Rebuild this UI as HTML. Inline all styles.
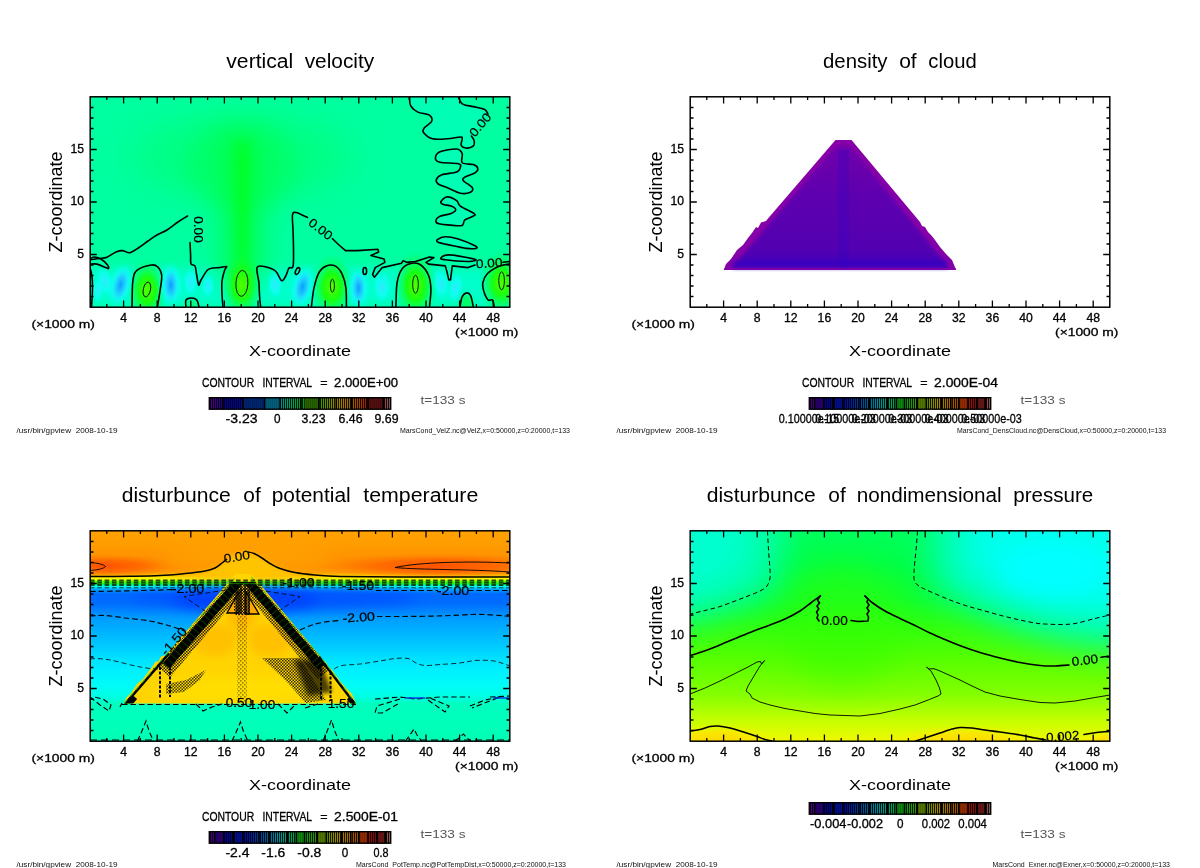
<!DOCTYPE html>
<html lang="en"><head><meta charset="utf-8"><title>gpview</title>
<style>html,body{margin:0;padding:0;background:#fff}svg{display:block}text{font-family:"Liberation Sans", sans-serif}</style></head><body>
<svg width="1200" height="868" viewBox="0 0 1200 868">
<defs>
<linearGradient id="cbar" x1="0" x2="1" y1="0" y2="0">
<stop offset="0" stop-color="#7800b4"/>
<stop offset="0.06" stop-color="#4000c8"/>
<stop offset="0.10" stop-color="#0000e6"/>
<stop offset="0.20" stop-color="#0010e6"/>
<stop offset="0.30" stop-color="#0070dc"/>
<stop offset="0.38" stop-color="#00c8dc"/>
<stop offset="0.45" stop-color="#00e68c"/>
<stop offset="0.52" stop-color="#00e61e"/>
<stop offset="0.60" stop-color="#50d200"/>
<stop offset="0.66" stop-color="#a0c800"/>
<stop offset="0.71" stop-color="#e6c800"/>
<stop offset="0.78" stop-color="#e68c00"/>
<stop offset="0.83" stop-color="#e66400"/>
<stop offset="0.87" stop-color="#e61e00"/>
<stop offset="0.92" stop-color="#b41010"/>
<stop offset="0.97" stop-color="#c86e6e"/>
<stop offset="1" stop-color="#c87878"/>
</linearGradient>
<pattern id="cbl" x="0" y="0" width="2" height="13" patternUnits="userSpaceOnUse">
<rect x="0" width="1" height="13" fill="#000" opacity="0.9"/>
<rect x="1" width="1" height="13" fill="#000" opacity="0.3"/>
</pattern>
<filter id="b2" x="-50%" y="-50%" width="200%" height="200%"><feGaussianBlur stdDeviation="2"/></filter>
<filter id="b4" x="-50%" y="-50%" width="200%" height="200%"><feGaussianBlur stdDeviation="4"/></filter>
<filter id="b6" x="-50%" y="-50%" width="200%" height="200%"><feGaussianBlur stdDeviation="6"/></filter>
<filter id="b10" x="-50%" y="-50%" width="200%" height="200%"><feGaussianBlur stdDeviation="10"/></filter>
<filter id="b16" x="-50%" y="-50%" width="200%" height="200%"><feGaussianBlur stdDeviation="16"/></filter>

<clipPath id="clip1"><rect x="90" y="97" width="420" height="210"/></clipPath>
<clipPath id="clip2"><rect x="690" y="97" width="420" height="210"/></clipPath>
<clipPath id="clip3"><rect x="90" y="531" width="420" height="210"/></clipPath>
<clipPath id="clip4"><rect x="690" y="531" width="420" height="210"/></clipPath>

<radialGradient id="p1g"><stop offset="0" stop-color="#54ff00"/><stop offset="0.4" stop-color="#18ff10"/><stop offset="1" stop-color="#00ff60" stop-opacity="0"/></radialGradient>
<radialGradient id="p1b"><stop offset="0" stop-color="#0c9cff"/><stop offset="0.5" stop-color="#20d0ff" stop-opacity="0.9"/><stop offset="1" stop-color="#10fff0" stop-opacity="0"/></radialGradient>
<radialGradient id="p1c"><stop offset="0" stop-color="#30e8ff"/><stop offset="0.55" stop-color="#10fff4" stop-opacity="0.8"/><stop offset="1" stop-color="#00ffe0" stop-opacity="0"/></radialGradient>


<linearGradient id="p2v" x1="0" x2="0" y1="0" y2="1"><stop offset="0" stop-color="#7a00a8"/><stop offset="0.45" stop-color="#6200ae"/><stop offset="0.85" stop-color="#5600b0"/><stop offset="1" stop-color="#4200ba"/></linearGradient>
<pattern id="p2h" width="2" height="2" patternUnits="userSpaceOnUse"><rect width="1" height="1" fill="#3000c0" opacity="0.25"/><rect x="1" y="1" width="1" height="1" fill="#3000c0" opacity="0.25"/></pattern>

<linearGradient id="p3v" x1="0" x2="0" y1="0" y2="1"><stop offset="0.0000" stop-color="#ffa200"/><stop offset="0.0667" stop-color="#ff9c00"/><stop offset="0.1381" stop-color="#ff9000"/><stop offset="0.1762" stop-color="#ff8c00"/><stop offset="0.2000" stop-color="#ffa000"/><stop offset="0.2143" stop-color="#ffd000"/><stop offset="0.2214" stop-color="#fff000"/><stop offset="0.2310" stop-color="#f0ff00"/><stop offset="0.2405" stop-color="#70ff00"/><stop offset="0.2524" stop-color="#00ff50"/><stop offset="0.2619" stop-color="#00ffe0"/><stop offset="0.2714" stop-color="#00d0ff"/><stop offset="0.2810" stop-color="#0098ff"/><stop offset="0.3000" stop-color="#0068ff"/><stop offset="0.3476" stop-color="#006eff"/><stop offset="0.3857" stop-color="#0088ff"/><stop offset="0.4143" stop-color="#009cff"/><stop offset="0.4714" stop-color="#00b0ff"/><stop offset="0.5429" stop-color="#00c8ff"/><stop offset="0.6048" stop-color="#00e0ff"/><stop offset="0.6619" stop-color="#00f0ff"/><stop offset="0.7333" stop-color="#00fcf8"/><stop offset="0.7952" stop-color="#00ffe0"/><stop offset="0.8190" stop-color="#00ffc0"/><stop offset="1.0000" stop-color="#00ffb4"/></linearGradient>
<radialGradient id="p3r"><stop offset="0" stop-color="#ff5000"/><stop offset="0.5" stop-color="#ff6400" stop-opacity="0.8"/><stop offset="1" stop-color="#ff8000" stop-opacity="0"/></radialGradient>
<pattern id="p3d" width="3" height="3" patternUnits="userSpaceOnUse"><rect width="1.5" height="1.5" fill="#000"/><rect x="1.5" y="1.5" width="1.5" height="1.5" fill="#000"/></pattern>
<pattern id="p3d2" width="4" height="4" patternUnits="userSpaceOnUse"><rect width="1.6" height="1.6" fill="#000"/><rect x="2" y="2" width="1.6" height="1.6" fill="#000"/></pattern>
<clipPath id="p3tri"><path d="M124 703.5L168 652.5L231 582L256 582L320 656L356 703.5Z"/></clipPath>


<linearGradient id="p4v" x1="0" x2="0" y1="0" y2="1">
<stop offset="0" stop-color="#00ff5c"/>
<stop offset="0.15" stop-color="#00ff48"/>
<stop offset="0.32" stop-color="#10ff30"/>
<stop offset="0.45" stop-color="#30ff10"/>
<stop offset="0.62" stop-color="#58ff00"/>
<stop offset="0.78" stop-color="#84ff00"/>
<stop offset="0.9" stop-color="#c4ff00"/>
<stop offset="1" stop-color="#f0f800"/>
</linearGradient>
<radialGradient id="p4y"><stop offset="0" stop-color="#ffd000"/><stop offset="0.6" stop-color="#ffe000" stop-opacity="0.8"/><stop offset="1" stop-color="#fff000" stop-opacity="0"/></radialGradient>

</defs>
<rect width="1200" height="868" fill="#fff"/>
<g clip-path="url(#clip1)">
<rect x="90" y="97" width="420" height="210" fill="#00ffa0"/>
<rect x="80" y="268" width="440" height="38" fill="#00ffd8" opacity="0.75" filter="url(#b6)"/>
<ellipse cx="242" cy="156" rx="112" ry="46" fill="#00ff58" opacity="0.36" filter="url(#b16)"/>
<ellipse cx="242" cy="165" rx="58" ry="45" fill="#00ff48" opacity="0.4" filter="url(#b10)"/>
<rect x="214" y="130" width="56" height="160" rx="24" fill="#00ff40" opacity="0.45" filter="url(#b10)"/>
<rect x="231" y="138" width="22" height="140" rx="10" fill="#00ff28" opacity="0.6" filter="url(#b6)"/>
<rect x="238" y="150" width="8" height="125" rx="4" fill="#00ff18" opacity="0.5" filter="url(#b4)"/>
<ellipse cx="147" cy="290" rx="20" ry="32" fill="url(#p1g)"/>
<ellipse cx="242" cy="285" rx="21" ry="35" fill="url(#p1g)"/>
<ellipse cx="332" cy="287" rx="22" ry="33" fill="url(#p1g)"/>
<ellipse cx="415.5" cy="286" rx="22" ry="35" fill="url(#p1g)"/>
<ellipse cx="501.5" cy="283" rx="22" ry="32" fill="url(#p1g)"/>
<ellipse cx="466.5" cy="303" rx="6" ry="9" fill="#00ff50" opacity="0.8" filter="url(#b2)"/>
<ellipse cx="192.5" cy="304" rx="5" ry="5" fill="#00ff60" opacity="0.7" filter="url(#b2)"/>
<ellipse cx="120.5" cy="285" rx="14" ry="24" transform="rotate(14 120.5 285)" fill="url(#p1c)"/>
<ellipse cx="120.5" cy="285" rx="9" ry="19" transform="rotate(14 120.5 285)" fill="url(#p1b)"/>
<ellipse cx="170.8" cy="285" rx="13.5" ry="24" transform="rotate(0 170.8 285)" fill="url(#p1c)"/>
<ellipse cx="170.8" cy="285" rx="8.5" ry="19" transform="rotate(0 170.8 285)" fill="url(#p1b)"/>
<ellipse cx="302.5" cy="287" rx="14" ry="24" transform="rotate(12 302.5 287)" fill="url(#p1c)"/>
<ellipse cx="302.5" cy="287" rx="9" ry="19" transform="rotate(12 302.5 287)" fill="url(#p1b)"/>
<ellipse cx="358.5" cy="288" rx="13" ry="23" transform="rotate(0 358.5 288)" fill="url(#p1c)"/>
<ellipse cx="358.5" cy="288" rx="8" ry="18" transform="rotate(0 358.5 288)" fill="url(#p1b)"/>
<ellipse cx="105" cy="282" rx="9" ry="17" transform="rotate(-14 105 282)" fill="url(#p1c)"/>
<ellipse cx="190.5" cy="282" rx="8" ry="15" transform="rotate(0 190.5 282)" fill="url(#p1c)"/>
<ellipse cx="208" cy="286" rx="7" ry="13" transform="rotate(0 208 286)" fill="url(#p1c)"/>
<ellipse cx="275" cy="285" rx="8" ry="15" transform="rotate(0 275 285)" fill="url(#p1c)"/>
<ellipse cx="382" cy="287" rx="10" ry="17" transform="rotate(0 382 287)" fill="url(#p1c)"/>
<ellipse cx="441" cy="284" rx="9" ry="17" transform="rotate(-10 441 284)" fill="url(#p1c)"/>
<ellipse cx="455.5" cy="288" rx="8" ry="16" transform="rotate(10 455.5 288)" fill="url(#p1c)"/>
<ellipse cx="98" cy="290" rx="6" ry="13" transform="rotate(0 98 290)" fill="url(#p1c)"/>
<path d="M409.6 97.0C409.8 98.5 409.2 103.2 410.6 105.7C412.0 108.2 414.8 110.6 417.9 112.1C421.0 113.6 426.7 113.4 429.0 114.9C431.3 116.4 432.5 119.2 431.7 121.3C430.9 123.4 425.8 125.9 424.4 127.8C423.0 129.7 422.1 130.6 423.5 132.4C424.9 134.2 428.7 137.7 432.7 138.8C436.7 139.9 442.8 139.1 447.4 138.8C452.0 138.5 457.8 137.0 460.3 137.0C462.8 137.0 462.1 137.4 462.2 138.8C462.3 140.2 460.6 143.8 461.2 145.3C461.8 146.8 463.8 147.8 465.8 148.0C467.8 148.2 471.8 147.4 473.2 146.2C474.6 145.0 474.4 142.4 474.1 140.7C473.8 139.0 470.4 138.6 471.4 136.0C472.4 133.4 477.2 128.7 480.0 125.0C482.8 121.3 487.3 116.6 488.0 114.0C488.7 111.4 486.8 110.5 484.3 109.3C481.8 108.1 476.9 107.5 473.2 106.6C469.5 105.7 464.6 105.4 462.2 103.8C459.8 102.2 459.1 98.1 458.5 97.0Z" fill="#00ffb4"/>
<path d="M435.4 158.2C435.4 156.4 436.5 153.2 440.0 151.7C443.5 150.2 452.9 148.7 456.6 149.0C460.3 149.3 461.3 151.3 462.2 153.6C463.1 155.9 460.4 161.0 462.2 162.8C464.0 164.6 470.6 163.7 473.2 164.6C475.8 165.5 477.5 166.9 477.8 168.3C478.1 169.7 477.0 171.5 475.0 172.9C473.0 174.3 467.8 175.4 465.8 176.6C463.8 177.8 462.0 178.5 463.1 180.3C464.2 182.2 471.1 185.7 472.3 187.7C473.5 189.7 472.4 191.4 470.4 192.3C468.4 193.2 464.1 194.0 460.3 193.2C456.5 192.4 451.1 189.2 447.4 187.7C443.7 186.2 440.0 185.4 438.2 184.0C436.4 182.6 435.8 180.9 436.4 179.4C437.0 177.9 438.5 176.0 441.9 174.8C445.3 173.6 453.5 173.2 456.6 172.0C459.7 170.8 460.0 168.8 460.3 167.4C460.6 166.0 461.9 164.6 458.5 163.7C455.1 162.8 443.9 163.1 440.0 162.2C436.1 161.3 435.4 159.9 435.4 158.2Z" fill="#00ffb4" stroke="#000" stroke-width="1.6"  stroke-linejoin="round" stroke-linecap="round"/>
<path d="M441.0 201.5C441.8 200.3 444.8 197.1 447.4 196.9C450.0 196.8 454.5 199.1 456.6 200.6C458.8 202.1 457.4 203.9 460.3 206.1C463.2 208.2 472.0 211.8 474.1 213.5C476.2 215.2 474.7 215.1 473.2 216.2C471.7 217.3 466.7 218.4 464.9 219.9C463.1 221.4 464.2 224.5 462.2 225.4C460.2 226.3 456.9 225.7 452.9 225.4C448.9 225.1 441.0 224.5 438.2 223.6C435.4 222.7 435.7 221.1 436.0 219.9C436.3 218.7 437.5 217.3 440.0 216.2C442.5 215.1 448.5 214.6 451.1 213.5C453.7 212.4 455.7 211.0 455.7 209.8C455.7 208.6 453.2 207.0 451.1 206.1C449.0 205.2 444.5 205.0 442.8 204.2C441.1 203.4 440.2 202.7 441.0 201.5Z" fill="#00ffb4" stroke="#000" stroke-width="1.6"  stroke-linejoin="round" stroke-linecap="round"/>
<path d="M437.4 239.6C438.6 238.7 441.9 236.8 445.3 236.7C448.7 236.6 452.6 237.3 457.5 238.8C462.4 240.3 471.9 244.2 475.0 245.8C478.1 247.4 477.3 248.0 475.9 248.4C474.4 248.8 470.8 249.0 466.3 248.4C461.8 247.8 453.5 245.9 448.8 244.9C444.1 243.9 440.2 243.2 438.3 242.3C436.4 241.4 436.2 240.5 437.4 239.6Z" fill="#00ffb4" stroke="#000" stroke-width="1.6"  stroke-linejoin="round" stroke-linecap="round"/>
<path d="M440.9 258.0C441.5 257.2 443.4 254.8 448.8 254.9C454.2 255.1 468.9 257.9 473.3 258.9C477.7 259.8 475.9 260.2 475.0 260.6C474.1 261.0 472.9 261.6 468.0 261.5C463.1 261.4 449.8 260.4 445.3 259.8C440.8 259.2 440.3 258.8 440.9 258.0Z" fill="#00ffb4" stroke="#000" stroke-width="1.6"  stroke-linejoin="round" stroke-linecap="round"/>
<path d="M409.6 97.0C409.8 98.5 409.2 103.2 410.6 105.7C412.0 108.2 414.8 110.6 417.9 112.1C421.0 113.6 426.7 113.4 429.0 114.9C431.3 116.4 432.5 119.2 431.7 121.3C430.9 123.4 425.8 125.9 424.4 127.8C423.0 129.7 422.1 130.6 423.5 132.4C424.9 134.2 428.7 137.7 432.7 138.8C436.7 139.9 442.8 139.1 447.4 138.8C452.0 138.5 457.8 137.0 460.3 137.0C462.8 137.0 462.1 137.4 462.2 138.8C462.3 140.2 460.6 143.8 461.2 145.3C461.8 146.8 463.8 147.8 465.8 148.0C467.8 148.2 471.8 147.4 473.2 146.2C474.6 145.0 474.4 142.4 474.1 140.7C473.8 139.0 471.8 136.8 471.4 136.0" stroke="#000" stroke-width="1.6" fill="none" stroke-linejoin="round" stroke-linecap="round"/>
<path d="M488.0 114.0C487.4 113.2 486.8 110.5 484.3 109.3C481.8 108.1 476.9 107.5 473.2 106.6C469.5 105.7 464.6 105.4 462.2 103.8C459.8 102.2 459.1 98.1 458.5 97.0" stroke="#000" stroke-width="1.6" fill="none" stroke-linejoin="round" stroke-linecap="round"/>
<path d="M90.0 259.8C91.5 259.6 96.2 258.9 99.0 258.5C101.8 258.1 104.2 258.3 107.0 257.2C109.8 256.1 113.4 253.1 116.0 252.0C118.6 250.9 120.2 250.5 122.5 250.6C124.8 250.7 127.2 253.2 130.0 252.7C132.8 252.2 136.0 249.4 139.0 247.5C142.0 245.6 145.1 243.1 148.0 241.0C150.9 238.9 153.3 237.0 156.5 235.2C159.7 233.4 163.4 232.2 167.0 230.0C170.6 227.8 174.6 224.3 178.0 222.0C181.4 219.7 185.9 217.0 187.5 216.0" stroke="#000" stroke-width="1.6" fill="none" stroke-linejoin="round" stroke-linecap="round"/>
<path d="M90.0 259.0C90.7 258.7 92.2 257.0 94.0 257.0C95.8 257.0 98.2 257.5 100.5 258.8C102.8 260.1 106.2 263.4 107.5 265.0C108.8 266.6 108.7 268.1 108.4 268.5C108.1 268.9 107.6 268.3 105.7 267.6C103.8 266.9 99.6 264.7 97.0 264.1C94.4 263.5 91.2 264.1 90.0 264.1" stroke="#000" stroke-width="1.6" fill="none" stroke-linejoin="round" stroke-linecap="round"/>
<path d="M190.0 242.5C190.1 244.6 190.4 251.4 190.6 255.0C190.8 258.6 190.3 262.2 191.0 264.0C191.7 265.8 194.1 264.3 195.0 266.0C195.9 267.7 195.9 270.8 196.5 274.0C197.1 277.2 197.9 284.0 198.7 285.0C199.4 286.0 199.5 282.5 201.0 280.0C202.5 277.5 205.5 272.0 207.5 270.0C209.5 268.0 210.9 268.4 213.0 268.0C215.1 267.6 217.8 267.8 220.0 267.5C222.2 267.2 225.7 266.1 226.5 266.5C227.3 266.9 225.4 267.6 224.7 270.0C223.9 272.4 222.4 277.0 222.0 281.0C221.6 285.0 221.8 289.7 222.0 294.0C222.2 298.3 222.8 304.8 223.0 307.0" stroke="#000" stroke-width="1.6" fill="none" stroke-linejoin="round" stroke-linecap="round"/>
<path d="M260.6 307.0C260.4 305.0 259.8 299.1 259.5 295.0C259.2 290.9 259.3 287.1 258.9 282.5C258.5 277.9 256.0 270.2 257.0 267.6C258.0 265.0 261.9 266.1 265.0 266.7C268.1 267.3 272.7 268.7 275.5 271.0C278.3 273.3 279.9 279.9 281.6 280.7C283.4 281.4 284.8 277.6 286.0 275.5C287.2 273.4 287.8 269.5 289.0 268.0C290.2 266.5 292.2 269.5 293.0 266.5C293.8 263.5 293.5 256.1 293.5 250.0C293.5 243.9 293.2 235.8 293.0 230.0C292.8 224.2 292.0 217.9 292.5 215.0C293.0 212.1 293.5 212.1 296.0 212.5C298.5 212.9 305.6 216.7 307.5 217.5" stroke="#000" stroke-width="1.6" fill="none" stroke-linejoin="round" stroke-linecap="round"/>
<path d="M332.5 238.7L339.0 245.0L345.5 250.6L357.7 250.6L377.9 249.2L378.7 251.9L370.9 255.4L384.0 258.9L384.9 262.4L375.2 267.6L372.6 274.6L374.4 277.2L382.2 267.6L401.5 263.2L403.2 260.6L406.7 262.4L415.5 261.5L429.5 257.1L433.9 257.6L426.0 262.4L428.6 264.1L445.3 265.9L447.0 272.0L448.8 279.9L450.5 279.9L452.3 265.9L468.0 267.6L475.0 265.0" stroke="#000" stroke-width="1.6" fill="none" stroke-linejoin="round" stroke-linecap="round"/>
<path d="M503 262.2L510 261.5" stroke="#000" stroke-width="1.6" fill="none" stroke-linejoin="round" stroke-linecap="round"/>
<path d="M132.0 307.0C132.2 302.6 132.0 286.8 132.9 280.7C133.8 274.6 134.1 272.8 137.2 270.2C140.2 267.6 147.8 265.6 151.2 265.0C154.6 264.4 155.7 264.9 157.4 266.7C159.2 268.4 161.3 271.4 161.7 275.5C162.1 279.6 160.7 285.8 160.0 291.0C159.3 296.2 157.8 304.3 157.4 307.0" stroke="#000" stroke-width="1.6" fill="none" stroke-linejoin="round" stroke-linecap="round"/>
<path d="M311.4 307.0C311.8 303.8 312.7 293.6 314.0 287.8C315.3 282.0 317.2 275.6 319.3 272.0C321.4 268.4 323.7 266.9 326.3 265.9C328.9 264.9 332.4 264.6 335.0 265.9C337.6 267.2 340.2 270.1 342.0 273.8C343.8 277.5 345.2 282.3 345.9 287.8C346.6 293.3 346.3 303.8 346.4 307.0" stroke="#000" stroke-width="1.6" fill="none" stroke-linejoin="round" stroke-linecap="round"/>
<path d="M395.9 307.0C396.1 302.9 396.0 288.9 397.1 282.5C398.2 276.1 399.9 271.7 402.4 268.5C404.9 265.3 408.9 263.9 412.0 263.3C415.1 262.7 418.0 263.0 420.8 265.0C423.6 267.0 426.9 271.4 428.6 275.5C430.3 279.6 430.8 284.2 430.9 289.5C431.0 294.8 429.7 304.1 429.5 307.0" stroke="#000" stroke-width="1.6" fill="none" stroke-linejoin="round" stroke-linecap="round"/>
<path d="M510.0 264.0C509.3 264.1 508.0 264.0 506.0 264.5C504.0 265.0 500.9 265.2 497.8 266.8C494.7 268.4 489.8 271.2 487.3 273.8C484.8 276.4 483.5 279.6 482.9 282.5C482.3 285.4 482.9 288.4 483.8 291.3C484.7 294.2 486.7 298.6 488.1 300.0C489.6 301.4 491.5 298.8 492.5 300.0C493.5 301.2 494.0 305.8 494.3 307.0" stroke="#000" stroke-width="1.6" fill="none" stroke-linejoin="round" stroke-linecap="round"/>
<path d="M460.1 307.0C460.4 305.4 460.9 299.7 461.9 297.4C462.9 295.1 464.9 293.3 466.3 293.0C467.8 292.7 469.4 293.3 470.6 295.6C471.8 297.9 472.9 305.1 473.3 307.0" stroke="#000" stroke-width="1.6" fill="none" stroke-linejoin="round" stroke-linecap="round"/>
<path d="M186.0 307.0C186.0 305.8 185.1 301.5 186.0 300.0C186.9 298.5 189.7 298.0 191.5 298.0C193.3 298.0 195.6 298.5 196.8 300.0C198.1 301.5 198.6 305.8 199.0 307.0" stroke="#000" stroke-width="1.6" fill="none" stroke-linejoin="round" stroke-linecap="round"/>
<path d="M91.5 307C93 290 93 275 90 268" stroke="#000" stroke-width="1.6" fill="none" stroke-linejoin="round" stroke-linecap="round"/>
<ellipse cx="364.8" cy="271" rx="1.8" ry="3.5" stroke="#000" stroke-width="1.6" fill="none" stroke-linejoin="round" stroke-linecap="round"/>
<ellipse cx="297.5" cy="271" rx="1.8" ry="3.6" transform="rotate(25 297.5 271)" stroke="#000" stroke-width="1.6" fill="none" stroke-linejoin="round" stroke-linecap="round"/>
<ellipse cx="146.9" cy="289.5" rx="3.6" ry="7.5" transform="rotate(12 146.9 289.5)" stroke="#000" stroke-width="0.9" fill="none"/>
<ellipse cx="241.9" cy="283.4" rx="6" ry="13" transform="rotate(3 241.9 283.4)" stroke="#000" stroke-width="0.9" fill="none"/>
<ellipse cx="332.4" cy="285.7" rx="2" ry="6.5" transform="rotate(0 332.4 285.7)" stroke="#000" stroke-width="0.9" fill="none"/>
<ellipse cx="415.5" cy="284.3" rx="2.8" ry="9" transform="rotate(0 415.5 284.3)" stroke="#000" stroke-width="0.9" fill="none"/>
<ellipse cx="501.6" cy="280.8" rx="2.8" ry="9" transform="rotate(0 501.6 280.8)" stroke="#000" stroke-width="0.9" fill="none"/>
<text transform="translate(194.3,229.5) rotate(90)" font-size="12.5" text-anchor="middle" stroke="#000" stroke-width="0.2" textLength="26.5" lengthAdjust="spacingAndGlyphs">0.00</text>
<text transform="translate(318,232.5) rotate(38)" font-size="12.5" text-anchor="middle" stroke="#000" stroke-width="0.2" textLength="26.5" lengthAdjust="spacingAndGlyphs">0.00</text>
<text transform="translate(483.5,127.5) rotate(-50)" font-size="12.5" text-anchor="middle" stroke="#000" stroke-width="0.2" textLength="26.5" lengthAdjust="spacingAndGlyphs">0.00</text>
<text transform="translate(489.5,267.3) rotate(-4)" font-size="12.5" text-anchor="middle" stroke="#000" stroke-width="0.2" textLength="26.5" lengthAdjust="spacingAndGlyphs">0.00</text>
</g>
<path d="M106.8 307.2v-3.3M106.8 96.8v3.3M123.6 307.2v-6.6M123.6 96.8v6.6M140.4 307.2v-3.3M140.4 96.8v3.3M157.2 307.2v-6.6M157.2 96.8v6.6M174.0 307.2v-3.3M174.0 96.8v3.3M190.8 307.2v-6.6M190.8 96.8v6.6M207.6 307.2v-3.3M207.6 96.8v3.3M224.4 307.2v-6.6M224.4 96.8v6.6M241.2 307.2v-3.3M241.2 96.8v3.3M258.0 307.2v-6.6M258.0 96.8v6.6M274.8 307.2v-3.3M274.8 96.8v3.3M291.6 307.2v-6.6M291.6 96.8v6.6M308.4 307.2v-3.3M308.4 96.8v3.3M325.2 307.2v-6.6M325.2 96.8v6.6M342.0 307.2v-3.3M342.0 96.8v3.3M358.8 307.2v-6.6M358.8 96.8v6.6M375.6 307.2v-3.3M375.6 96.8v3.3M392.4 307.2v-6.6M392.4 96.8v6.6M409.2 307.2v-3.3M409.2 96.8v3.3M426.0 307.2v-6.6M426.0 96.8v6.6M442.8 307.2v-3.3M442.8 96.8v3.3M459.6 307.2v-6.6M459.6 96.8v6.6M476.4 307.2v-3.3M476.4 96.8v3.3M493.2 307.2v-6.6M493.2 96.8v6.6M90.2 296.50h3.3M509.8 296.50h-3.3M90.2 286.00h3.3M509.8 286.00h-3.3M90.2 275.50h3.3M509.8 275.50h-3.3M90.2 265.00h3.3M509.8 265.00h-3.3M90.2 254.50h6.6M509.8 254.50h-6.6M90.2 244.00h3.3M509.8 244.00h-3.3M90.2 233.50h3.3M509.8 233.50h-3.3M90.2 223.00h3.3M509.8 223.00h-3.3M90.2 212.50h3.3M509.8 212.50h-3.3M90.2 202.00h6.6M509.8 202.00h-6.6M90.2 191.50h3.3M509.8 191.50h-3.3M90.2 181.00h3.3M509.8 181.00h-3.3M90.2 170.50h3.3M509.8 170.50h-3.3M90.2 160.00h3.3M509.8 160.00h-3.3M90.2 149.50h6.6M509.8 149.50h-6.6M90.2 139.00h3.3M509.8 139.00h-3.3M90.2 128.50h3.3M509.8 128.50h-3.3M90.2 118.00h3.3M509.8 118.00h-3.3M90.2 107.50h3.3M509.8 107.50h-3.3" stroke="#000" stroke-width="1.3" fill="none"/>
<rect x="90.2" y="96.8" width="419.6" height="210.4" fill="none" stroke="#000" stroke-width="1.5"/>
<text y="67.5" font-size="19.5" fill="#000" xml:space="preserve"><tspan x="226.3" textLength="67.0" lengthAdjust="spacingAndGlyphs">vertical</tspan> <tspan x="304.7" textLength="69.5" lengthAdjust="spacingAndGlyphs">velocity</tspan></text>
<text x="84.0" y="257.6" font-size="12.2" text-anchor="end" fill="#000" stroke="#000" stroke-width="0.3">5</text>
<text x="84.0" y="205.1" font-size="12.2" text-anchor="end" fill="#000" stroke="#000" stroke-width="0.3">10</text>
<text x="84.0" y="152.6" font-size="12.2" text-anchor="end" fill="#000" stroke="#000" stroke-width="0.3">15</text>
<text x="123.6" y="322.2" font-size="12.2" text-anchor="middle" fill="#000" stroke="#000" stroke-width="0.3">4</text>
<text x="157.2" y="322.2" font-size="12.2" text-anchor="middle" fill="#000" stroke="#000" stroke-width="0.3">8</text>
<text x="190.8" y="322.2" font-size="12.2" text-anchor="middle" fill="#000" stroke="#000" stroke-width="0.3">12</text>
<text x="224.4" y="322.2" font-size="12.2" text-anchor="middle" fill="#000" stroke="#000" stroke-width="0.3">16</text>
<text x="258.0" y="322.2" font-size="12.2" text-anchor="middle" fill="#000" stroke="#000" stroke-width="0.3">20</text>
<text x="291.6" y="322.2" font-size="12.2" text-anchor="middle" fill="#000" stroke="#000" stroke-width="0.3">24</text>
<text x="325.2" y="322.2" font-size="12.2" text-anchor="middle" fill="#000" stroke="#000" stroke-width="0.3">28</text>
<text x="358.8" y="322.2" font-size="12.2" text-anchor="middle" fill="#000" stroke="#000" stroke-width="0.3">32</text>
<text x="392.4" y="322.2" font-size="12.2" text-anchor="middle" fill="#000" stroke="#000" stroke-width="0.3">36</text>
<text x="426.0" y="322.2" font-size="12.2" text-anchor="middle" fill="#000" stroke="#000" stroke-width="0.3">40</text>
<text x="459.6" y="322.2" font-size="12.2" text-anchor="middle" fill="#000" stroke="#000" stroke-width="0.3">44</text>
<text x="493.2" y="322.2" font-size="12.2" text-anchor="middle" fill="#000" stroke="#000" stroke-width="0.3">48</text>
<text x="63.2" y="328.3" font-size="11.5" text-anchor="middle" fill="#000" textLength="63.5" lengthAdjust="spacingAndGlyphs" stroke="#000" stroke-width="0.3">(×1000 m)</text>
<text x="486.7" y="335.8" font-size="11.5" text-anchor="middle" fill="#000" textLength="63.3" lengthAdjust="spacingAndGlyphs" stroke="#000" stroke-width="0.3">(×1000 m)</text>
<text x="300.0" y="356.0" font-size="15.5" text-anchor="middle" fill="#000" textLength="102" lengthAdjust="spacingAndGlyphs">X-coordinate</text>
<text transform="translate(62,202) rotate(-90)" font-size="18" text-anchor="middle" textLength="101" lengthAdjust="spacingAndGlyphs">Z-coordinate</text>
<text y="386.8" font-size="12.2" fill="#000" xml:space="preserve" stroke="#000" stroke-width="0.3"><tspan x="201.9" textLength="52.3" lengthAdjust="spacingAndGlyphs">CONTOUR</tspan> <tspan x="262.5" textLength="49.2" lengthAdjust="spacingAndGlyphs">INTERVAL</tspan> <tspan x="320.3" textLength="7.3" lengthAdjust="spacingAndGlyphs">=</tspan> <tspan x="334.1" textLength="63.9" lengthAdjust="spacingAndGlyphs">2.000E+00</tspan></text>
<rect x="209.3" y="397.7" width="181.4" height="11.5" fill="url(#cbar)"/>
<rect x="209.3" y="397.7" width="181.4" height="11.5" fill="url(#cbl)"/>
<rect x="243.8" y="397.7" width="20.9" height="11.5" fill="#002878"/>
<rect x="265.5" y="397.7" width="13.6" height="11.5" fill="#006888"/>
<rect x="304.5" y="397.7" width="13.6" height="11.5" fill="#2a6c00"/>
<rect x="368.9" y="397.7" width="13.6" height="11.5" fill="#5c1010"/>
<rect x="243.8" y="397.7" width="20.9" height="11.5" fill="url(#cbl)" opacity="0.25"/>
<rect x="265.5" y="397.7" width="13.6" height="11.5" fill="url(#cbl)" opacity="0.25"/>
<rect x="304.5" y="397.7" width="13.6" height="11.5" fill="url(#cbl)" opacity="0.25"/>
<rect x="368.9" y="397.7" width="13.6" height="11.5" fill="url(#cbl)" opacity="0.25"/>
<path d="M222.9 397.7v11.5M242.9 397.7v11.5M264.6 397.7v11.5M280.0 397.7v11.5M300.9 397.7v11.5M319.0 397.7v11.5M336.3 397.7v11.5M351.7 397.7v11.5M368.0 397.7v11.5M383.4 397.7v11.5" stroke="#000" stroke-width="1.6"/>
<rect x="209.3" y="397.7" width="181.4" height="11.5" fill="none" stroke="#000" stroke-width="1.4"/>
<text x="241.5" y="422.7" font-size="12.2" text-anchor="middle" fill="#000" textLength="32" lengthAdjust="spacingAndGlyphs" stroke="#000" stroke-width="0.3">-3.23</text>
<text x="277.2" y="422.7" font-size="12.2" text-anchor="middle" fill="#000" textLength="6.5" lengthAdjust="spacingAndGlyphs" stroke="#000" stroke-width="0.3">0</text>
<text x="313.6" y="422.7" font-size="12.2" text-anchor="middle" fill="#000" textLength="24" lengthAdjust="spacingAndGlyphs" stroke="#000" stroke-width="0.3">3.23</text>
<text x="350.6" y="422.7" font-size="12.2" text-anchor="middle" fill="#000" textLength="24" lengthAdjust="spacingAndGlyphs" stroke="#000" stroke-width="0.3">6.46</text>
<text x="386.5" y="422.7" font-size="12.2" text-anchor="middle" fill="#000" textLength="24" lengthAdjust="spacingAndGlyphs" stroke="#000" stroke-width="0.3">9.69</text>
<text x="420.5" y="404.0" font-size="11.8" text-anchor="start" fill="#555" textLength="45" lengthAdjust="spacingAndGlyphs">t=133 s</text>
<text x="16.5" y="432.5" font-size="6.6" text-anchor="start" fill="#111" textLength="101" lengthAdjust="spacingAndGlyphs" style="white-space:pre">/usr/bin/gpview  2008-10-19</text>
<text x="400.0" y="432.5" font-size="6.6" text-anchor="start" fill="#111" textLength="170" lengthAdjust="spacingAndGlyphs">MarsCond_VelZ.nc@VelZ,x=0:50000,z=0:20000,t=133</text>
<g clip-path="url(#clip2)">
<path d="M724.0 269.5L726.0 264.0L731.0 259.0L737.0 250.0L743.0 245.0L748.0 238.0L752.0 233.0L756.0 227.0L758.0 228.0L761.0 222.5L766.0 221.0L768.0 218.5L835.5 140.0L851.5 140.0L920.0 222.0L922.0 226.0L925.0 227.0L928.0 232.0L931.0 235.0L935.0 240.0L940.0 247.0L946.0 254.0L952.0 260.0L956.0 269.5Z" fill="#8800a8"/>
<path d="M732.0 267.5L836.0 147.0L843.5 144.5L851.0 147.0L949.0 267.5Z" fill="url(#p2v)" filter="url(#b2)" opacity="0.95"/>
<path d="M732.0 267.5L836.0 147.0L843.5 144.5L851.0 147.0L949.0 267.5Z" fill="url(#p2h)"/>
<rect x="838" y="150" width="11" height="118" fill="#3a00c0" opacity="0.35"/>
<rect x="732" y="260" width="216" height="8" fill="#2800c8" opacity="0.4" filter="url(#b2)"/>
<path d="M724 269.3H956" stroke="#8000a8" stroke-width="1.6"/>
</g>
<path d="M706.8 307.2v-3.3M706.8 96.8v3.3M723.6 307.2v-6.6M723.6 96.8v6.6M740.4 307.2v-3.3M740.4 96.8v3.3M757.2 307.2v-6.6M757.2 96.8v6.6M774.0 307.2v-3.3M774.0 96.8v3.3M790.8 307.2v-6.6M790.8 96.8v6.6M807.6 307.2v-3.3M807.6 96.8v3.3M824.4 307.2v-6.6M824.4 96.8v6.6M841.2 307.2v-3.3M841.2 96.8v3.3M858.0 307.2v-6.6M858.0 96.8v6.6M874.8 307.2v-3.3M874.8 96.8v3.3M891.6 307.2v-6.6M891.6 96.8v6.6M908.4 307.2v-3.3M908.4 96.8v3.3M925.2 307.2v-6.6M925.2 96.8v6.6M942.0 307.2v-3.3M942.0 96.8v3.3M958.8 307.2v-6.6M958.8 96.8v6.6M975.6 307.2v-3.3M975.6 96.8v3.3M992.4 307.2v-6.6M992.4 96.8v6.6M1009.2 307.2v-3.3M1009.2 96.8v3.3M1026.0 307.2v-6.6M1026.0 96.8v6.6M1042.8 307.2v-3.3M1042.8 96.8v3.3M1059.6 307.2v-6.6M1059.6 96.8v6.6M1076.4 307.2v-3.3M1076.4 96.8v3.3M1093.2 307.2v-6.6M1093.2 96.8v6.6M690.2 296.50h3.3M1109.8 296.50h-3.3M690.2 286.00h3.3M1109.8 286.00h-3.3M690.2 275.50h3.3M1109.8 275.50h-3.3M690.2 265.00h3.3M1109.8 265.00h-3.3M690.2 254.50h6.6M1109.8 254.50h-6.6M690.2 244.00h3.3M1109.8 244.00h-3.3M690.2 233.50h3.3M1109.8 233.50h-3.3M690.2 223.00h3.3M1109.8 223.00h-3.3M690.2 212.50h3.3M1109.8 212.50h-3.3M690.2 202.00h6.6M1109.8 202.00h-6.6M690.2 191.50h3.3M1109.8 191.50h-3.3M690.2 181.00h3.3M1109.8 181.00h-3.3M690.2 170.50h3.3M1109.8 170.50h-3.3M690.2 160.00h3.3M1109.8 160.00h-3.3M690.2 149.50h6.6M1109.8 149.50h-6.6M690.2 139.00h3.3M1109.8 139.00h-3.3M690.2 128.50h3.3M1109.8 128.50h-3.3M690.2 118.00h3.3M1109.8 118.00h-3.3M690.2 107.50h3.3M1109.8 107.50h-3.3" stroke="#000" stroke-width="1.3" fill="none"/>
<rect x="690.2" y="96.8" width="419.6" height="210.4" fill="none" stroke="#000" stroke-width="1.5"/>
<text y="67.5" font-size="19.5" fill="#000" xml:space="preserve"><tspan x="823.0" textLength="64.5" lengthAdjust="spacingAndGlyphs">density</tspan> <tspan x="899.2" textLength="17.5" lengthAdjust="spacingAndGlyphs">of</tspan> <tspan x="928.3" textLength="48.4" lengthAdjust="spacingAndGlyphs">cloud</tspan></text>
<text x="684.0" y="257.6" font-size="12.2" text-anchor="end" fill="#000" stroke="#000" stroke-width="0.3">5</text>
<text x="684.0" y="205.1" font-size="12.2" text-anchor="end" fill="#000" stroke="#000" stroke-width="0.3">10</text>
<text x="684.0" y="152.6" font-size="12.2" text-anchor="end" fill="#000" stroke="#000" stroke-width="0.3">15</text>
<text x="723.6" y="322.2" font-size="12.2" text-anchor="middle" fill="#000" stroke="#000" stroke-width="0.3">4</text>
<text x="757.2" y="322.2" font-size="12.2" text-anchor="middle" fill="#000" stroke="#000" stroke-width="0.3">8</text>
<text x="790.8" y="322.2" font-size="12.2" text-anchor="middle" fill="#000" stroke="#000" stroke-width="0.3">12</text>
<text x="824.4" y="322.2" font-size="12.2" text-anchor="middle" fill="#000" stroke="#000" stroke-width="0.3">16</text>
<text x="858.0" y="322.2" font-size="12.2" text-anchor="middle" fill="#000" stroke="#000" stroke-width="0.3">20</text>
<text x="891.6" y="322.2" font-size="12.2" text-anchor="middle" fill="#000" stroke="#000" stroke-width="0.3">24</text>
<text x="925.2" y="322.2" font-size="12.2" text-anchor="middle" fill="#000" stroke="#000" stroke-width="0.3">28</text>
<text x="958.8" y="322.2" font-size="12.2" text-anchor="middle" fill="#000" stroke="#000" stroke-width="0.3">32</text>
<text x="992.4" y="322.2" font-size="12.2" text-anchor="middle" fill="#000" stroke="#000" stroke-width="0.3">36</text>
<text x="1026.0" y="322.2" font-size="12.2" text-anchor="middle" fill="#000" stroke="#000" stroke-width="0.3">40</text>
<text x="1059.6" y="322.2" font-size="12.2" text-anchor="middle" fill="#000" stroke="#000" stroke-width="0.3">44</text>
<text x="1093.2" y="322.2" font-size="12.2" text-anchor="middle" fill="#000" stroke="#000" stroke-width="0.3">48</text>
<text x="663.2" y="328.3" font-size="11.5" text-anchor="middle" fill="#000" textLength="63.5" lengthAdjust="spacingAndGlyphs" stroke="#000" stroke-width="0.3">(×1000 m)</text>
<text x="1086.7" y="335.8" font-size="11.5" text-anchor="middle" fill="#000" textLength="63.3" lengthAdjust="spacingAndGlyphs" stroke="#000" stroke-width="0.3">(×1000 m)</text>
<text x="900.0" y="356.0" font-size="15.5" text-anchor="middle" fill="#000" textLength="102" lengthAdjust="spacingAndGlyphs">X-coordinate</text>
<text transform="translate(662,202) rotate(-90)" font-size="18" text-anchor="middle" textLength="101" lengthAdjust="spacingAndGlyphs">Z-coordinate</text>
<text y="386.8" font-size="12.2" fill="#000" xml:space="preserve" stroke="#000" stroke-width="0.3"><tspan x="801.9" textLength="52.3" lengthAdjust="spacingAndGlyphs">CONTOUR</tspan> <tspan x="862.5" textLength="49.2" lengthAdjust="spacingAndGlyphs">INTERVAL</tspan> <tspan x="920.3" textLength="7.3" lengthAdjust="spacingAndGlyphs">=</tspan> <tspan x="934.1" textLength="63.9" lengthAdjust="spacingAndGlyphs">2.000E-04</tspan></text>
<rect x="809.3" y="397.7" width="181.4" height="11.5" fill="url(#cbar)"/>
<rect x="809.3" y="397.7" width="181.4" height="11.5" fill="url(#cbl)"/>
<rect x="815.6" y="397.7" width="7.3" height="11.5" fill="#2a0078"/>
<rect x="834.7" y="397.7" width="7.3" height="11.5" fill="#001090"/>
<rect x="897.3" y="397.7" width="6.3" height="11.5" fill="#109010"/>
<rect x="918.1" y="397.7" width="7.3" height="11.5" fill="#5a8200"/>
<rect x="959.9" y="397.7" width="7.3" height="11.5" fill="#a03000"/>
<rect x="978.0" y="397.7" width="6.3" height="11.5" fill="#701818"/>
<rect x="815.6" y="397.7" width="7.3" height="11.5" fill="url(#cbl)" opacity="0.25"/>
<rect x="834.7" y="397.7" width="7.3" height="11.5" fill="url(#cbl)" opacity="0.25"/>
<rect x="897.3" y="397.7" width="6.3" height="11.5" fill="url(#cbl)" opacity="0.25"/>
<rect x="918.1" y="397.7" width="7.3" height="11.5" fill="url(#cbl)" opacity="0.25"/>
<rect x="959.9" y="397.7" width="7.3" height="11.5" fill="url(#cbl)" opacity="0.25"/>
<rect x="978.0" y="397.7" width="6.3" height="11.5" fill="url(#cbl)" opacity="0.25"/>
<path d="M814.7 397.7v11.5M823.8 397.7v11.5M833.8 397.7v11.5M842.9 397.7v11.5M860.1 397.7v11.5M869.2 397.7v11.5M887.3 397.7v11.5M896.4 397.7v11.5M904.5 397.7v11.5M917.2 397.7v11.5M926.3 397.7v11.5M941.7 397.7v11.5M950.8 397.7v11.5M959.0 397.7v11.5M968.0 397.7v11.5M977.1 397.7v11.5M985.3 397.7v11.5" stroke="#000" stroke-width="1.6"/>
<rect x="809.3" y="397.7" width="181.4" height="11.5" fill="none" stroke="#000" stroke-width="1.4"/>
<text x="809.0" y="422.7" font-size="12.2" text-anchor="middle" fill="#000" textLength="60.5" lengthAdjust="spacingAndGlyphs" stroke="#000" stroke-width="0.3">0.10000e-15</text>
<text x="845.5" y="422.7" font-size="12.2" text-anchor="middle" fill="#000" textLength="60.5" lengthAdjust="spacingAndGlyphs" stroke="#000" stroke-width="0.3">0.10000e-03</text>
<text x="882.0" y="422.7" font-size="12.2" text-anchor="middle" fill="#000" textLength="60.5" lengthAdjust="spacingAndGlyphs" stroke="#000" stroke-width="0.3">0.20000e-03</text>
<text x="918.5" y="422.7" font-size="12.2" text-anchor="middle" fill="#000" textLength="60.5" lengthAdjust="spacingAndGlyphs" stroke="#000" stroke-width="0.3">0.30000e-03</text>
<text x="955.0" y="422.7" font-size="12.2" text-anchor="middle" fill="#000" textLength="60.5" lengthAdjust="spacingAndGlyphs" stroke="#000" stroke-width="0.3">0.40000e-03</text>
<text x="991.5" y="422.7" font-size="12.2" text-anchor="middle" fill="#000" textLength="60.5" lengthAdjust="spacingAndGlyphs" stroke="#000" stroke-width="0.3">0.50000e-03</text>
<text x="1020.5" y="404.0" font-size="11.8" text-anchor="start" fill="#555" textLength="45" lengthAdjust="spacingAndGlyphs">t=133 s</text>
<text x="616.5" y="432.5" font-size="6.6" text-anchor="start" fill="#111" textLength="101" lengthAdjust="spacingAndGlyphs" style="white-space:pre">/usr/bin/gpview  2008-10-19</text>
<text x="957.0" y="432.5" font-size="6.6" text-anchor="start" fill="#111" textLength="209" lengthAdjust="spacingAndGlyphs">MarsCond_DensCloud.nc@DensCloud,x=0:50000,z=0:20000,t=133</text>
<g clip-path="url(#clip3)">
<rect x="90" y="531" width="420" height="210" fill="url(#p3v)"/>
<ellipse cx="105" cy="566" rx="75" ry="12" fill="url(#p3r)"/>
<ellipse cx="440" cy="566" rx="125" ry="13" fill="url(#p3r)"/>
<ellipse cx="248" cy="556" rx="85" ry="20" fill="#ffa000" opacity="0.9" filter="url(#b10)"/>
<path d="M150.0 577.0C155.0 576.7 170.8 576.0 180.0 575.0C189.2 574.0 198.3 572.7 205.0 571.0C211.7 569.3 215.5 567.5 220.0 565.0C224.5 562.5 228.3 558.1 232.0 556.0C235.7 553.9 238.7 552.9 242.0 552.5C245.3 552.1 248.7 552.6 252.0 553.5C255.3 554.4 258.2 555.9 262.0 558.0C265.8 560.1 270.3 563.7 275.0 566.0C279.7 568.3 284.2 570.4 290.0 572.0C295.8 573.6 301.7 574.7 310.0 575.5C318.3 576.3 335.0 576.8 340.0 577.0Z" fill="#ffc400" filter="url(#b2)"/>
<ellipse cx="275" cy="598" rx="145" ry="10" fill="#0050ff" opacity="0.75" filter="url(#b6)"/>
<ellipse cx="245" cy="600" rx="72" ry="12" fill="#0034ff" opacity="0.6" filter="url(#b6)"/>
<path d="M124.0 703.5L126.0 698.0L131.0 693.0L137.0 684.0L143.0 679.0L148.0 672.0L152.0 667.0L156.0 661.0L158.0 662.0L161.0 656.5L166.0 655.0L168.0 652.5L235.5 574.0L251.5 574.0L320.0 656.0L322.0 660.0L325.0 661.0L328.0 666.0L331.0 669.0L335.0 674.0L340.0 681.0L346.0 688.0L352.0 694.0L356.0 703.5Z" fill="#ffd400"/>
<g clip-path="url(#p3tri)">
<ellipse cx="215" cy="640" rx="22" ry="16" fill="#ffbc00" opacity="0.8" filter="url(#b4)"/>
<ellipse cx="270" cy="640" rx="22" ry="16" fill="#ffbc00" opacity="0.8" filter="url(#b4)"/>
<ellipse cx="242" cy="610" rx="14" ry="22" fill="#ffb400" opacity="0.8" filter="url(#b4)"/>
<ellipse cx="242" cy="690" rx="90" ry="14" fill="#ffe000" opacity="0.8" filter="url(#b6)"/>
<rect x="237" y="612" width="10" height="90" fill="url(#p3d2)" opacity="0.4"/>
<path d="M166 684L186 680L206 670L200 680L184 692L166 694Z" fill="url(#p3d)" opacity="0.75"/>
<path d="M262 658L300 658L326 700L306 703L285 680Z" fill="url(#p3d)" opacity="0.8"/>
<path d="M294 660L320 660L332 692L308 696Z" fill="#000" opacity="0.7" filter="url(#b2)"/>
<path d="M164 672L243.6 578L324 674" stroke="url(#p3d)" stroke-width="16" fill="none" opacity="0.85"/>
<path d="M166 666L243.6 576.3L321.5 667" stroke="#000" stroke-width="8.6" fill="none" stroke-linejoin="miter"/>
<path d="M166 666L243.6 576.3L321.5 667" stroke="#0c5000" stroke-width="8.6" fill="none" stroke-dasharray="1.2 4.5" opacity="0.6"/>
<path d="M124 703.5L168 652.5M320 656L356 703.5" stroke="#000" stroke-width="5" fill="none"/>
<path d="M124 703.5L150 673" stroke="#000" stroke-width="14" fill="none" stroke-dasharray="12 30"/>
<path d="M356 703.5L340 683" stroke="#000" stroke-width="9" fill="none" stroke-dasharray="9 30"/>
<path d="M227 613L239 592V613ZM246 592L259 614H246Z" fill="#ffa800" stroke="#000" stroke-width="1.3"/>
<rect x="234" y="588" width="16" height="27" fill="url(#p3d)"/>
<path d="M237 590V614M241 586V614M245 586V614M249 590V614" stroke="#000" stroke-width="1.2"/>
<path d="M160 667V698M170 658V697" stroke="#000" stroke-width="2" stroke-dasharray="3 1.6"/>
<path d="M321 664V700M330.5 672V701" stroke="#000" stroke-width="2" stroke-dasharray="3 1.6"/>
</g>
<path d="M124 703.5L168 652.5L235.5 577" stroke="#30d020" stroke-width="1.2" fill="none" opacity="0.7" stroke-dasharray="5 4"/>
<path d="M251.5 577L320 656L356 703.5" stroke="#30d020" stroke-width="1.2" fill="none" opacity="0.7" stroke-dasharray="5 4"/>
<path d="M90.0 576.5C96.7 576.5 118.3 576.5 130.0 576.3C141.7 576.1 150.8 576.0 160.0 575.5C169.2 575.0 177.5 574.2 185.0 573.5C192.5 572.8 200.0 571.9 205.0 571.0C210.0 570.1 212.2 569.3 215.0 568.0C217.8 566.7 220.0 564.5 222.0 563.0C224.0 561.5 226.2 559.7 227.0 559.0" stroke="#000" stroke-width="1.5" fill="none" stroke-linejoin="round"/>
<path d="M248.0 552.0C249.0 552.2 251.7 552.5 254.0 553.5C256.3 554.5 259.3 556.3 262.0 558.0C264.7 559.7 267.0 561.8 270.0 563.5C273.0 565.2 275.8 567.0 280.0 568.5C284.2 570.0 289.2 571.4 295.0 572.5C300.8 573.6 307.5 574.3 315.0 575.0C322.5 575.7 325.8 576.2 340.0 576.5C354.2 576.8 371.7 576.9 400.0 577.0C428.3 577.1 491.7 577.0 510.0 577.0" stroke="#000" stroke-width="1.5" fill="none" stroke-linejoin="round"/>
<path d="M90 562.5C98 563 104 564.5 105.5 566.5C104 568.5 98 570 90 570.5" stroke="#000" stroke-width="0.9" fill="none"/>
<path d="M510 563C470 561 420 562 395 567.5C420 570 470 569 510 572" stroke="#000" stroke-width="0.9" fill="none"/>
<path d="M90 582.7H510" stroke="#001800" stroke-width="6.4" stroke-dasharray="4.6 2.7" opacity="0.78"/>
<path d="M90 581.4H510M90 583.6H510" stroke="#30e000" stroke-width="0.8" opacity="0.55"/>
<path d="M90 587.8H226M258 587.8H510" stroke="#000" stroke-width="0.9" stroke-dasharray="4.5 2.8" opacity="0.8"/>
<path d="M90 591.5C130 591 160 590 176 589.5" stroke="#000" stroke-width="1.15" fill="none" stroke-dasharray="5.5 3"/>
<path d="M376 590.5H438" stroke="#000" stroke-width="1.15" fill="none" stroke-dasharray="5.5 3"/><path d="M468 590.5H510" stroke="#000" stroke-width="1.15" fill="none" stroke-dasharray="5.5 3"/>
<path d="M90.0 616.0C92.5 615.9 99.2 615.2 105.0 615.5C110.8 615.8 117.5 617.1 125.0 618.0C132.5 618.9 142.5 619.7 150.0 621.0C157.5 622.3 164.2 624.3 170.0 626.0C175.8 627.7 182.5 630.2 185.0 631.0" stroke="#000" stroke-width="1.15" fill="none" stroke-dasharray="5.5 3"/>
<path d="M300.0 630.0C302.0 629.2 307.8 626.3 312.0 625.0C316.2 623.7 320.3 622.8 325.0 622.0C329.7 621.2 337.5 620.8 340.0 620.5" stroke="#000" stroke-width="1.15" fill="none" stroke-dasharray="5.5 3"/>
<path d="M377 616.5C400 616.5 440 616.5 460 615C480 613.5 495 615 510 616.5" stroke="#000" stroke-width="1.15" fill="none" stroke-dasharray="5.5 3"/>
<path d="M226 590L184 596.5L205 611" stroke="#000" stroke-width="0.8" fill="none" stroke-dasharray="5 3"/><path d="M258 590L300 596.5L279 611" stroke="#000" stroke-width="0.8" fill="none" stroke-dasharray="5 3"/>
<path d="M90 659C100 657.5 112 660 125 663.5S150 669 158 669" stroke="#000" stroke-width="0.8" fill="none" stroke-dasharray="5 3"/>
<path d="M334.0 669.0C335.3 668.4 337.7 666.3 342.0 665.5C346.3 664.7 353.7 664.8 360.0 664.0C366.3 663.2 374.2 661.9 380.0 661.0C385.8 660.1 390.3 658.9 395.0 658.5C399.7 658.1 404.5 657.8 408.0 658.5C411.5 659.2 413.2 661.8 416.0 663.0C418.8 664.2 421.0 665.2 425.0 665.5C429.0 665.8 434.2 664.9 440.0 664.5C445.8 664.1 454.2 663.7 460.0 663.0C465.8 662.3 470.0 660.9 475.0 660.5C480.0 660.1 485.8 660.2 490.0 660.5C494.2 660.8 496.7 661.6 500.0 662.5C503.3 663.4 508.3 665.4 510.0 666.0" stroke="#000" stroke-width="0.8" fill="none" stroke-dasharray="5 3"/>
<path d="M122 704.5H356" stroke="#000" stroke-width="1.15" fill="none" stroke-dasharray="5.5 3"/>
<path d="M90 697L100 705L109 711L111 705L103 699L94 697M122 703L120 707" stroke="#000" stroke-width="1.15" fill="none" stroke-dasharray="5.5 3"/>
<path d="M196 704L203 711L212 707L222 704M278 704L287 713L294 706" stroke="#000" stroke-width="1.15" fill="none" stroke-dasharray="5.5 3"/>
<path d="M305 708L318 704M375 699L400 697L415 699L440 697H470M490 697L510 696" stroke="#000" stroke-width="1.15" fill="none" stroke-dasharray="5.5 3"/>
<path d="M400 699L377 706L375 713L382 713L398 704M428 700L445 712L449 706L430 698M470 706L485 700L500 697L472 708" stroke="#000" stroke-width="1.15" fill="none" stroke-dasharray="5.5 3"/>
<path d="M405 698H425M493 698H510" stroke="#0040e0" stroke-width="1.6"/>
<path d="M137.5 741L141.5 732.0L146.0 721L149.0 731.0L153.5 741" stroke="#000" stroke-width="1.15" fill="none" stroke-dasharray="5.5 3"/>
<path d="M232 741L236 732.45L240.5 722L243.5 731.5L248 741" stroke="#000" stroke-width="1.15" fill="none" stroke-dasharray="5.5 3"/>
<path d="M323 741L327 731.55L331.5 720L334.5 730.5L339 741" stroke="#000" stroke-width="1.15" fill="none" stroke-dasharray="5.5 3"/>
<path d="M405.5 741L409.5 735.6L414.0 729L417.0 735.0L421.5 741" stroke="#000" stroke-width="1.15" fill="none" stroke-dasharray="5.5 3"/>
<path d="M455 741L459 737.85L463.5 734L466.5 737.5L471 741" stroke="#000" stroke-width="1.15" fill="none" stroke-dasharray="5.5 3"/>
<path d="M90 740H510" stroke="#000" stroke-width="1.2" stroke-dasharray="7 4"/>
<text transform="translate(237.5,561) rotate(-9)" font-size="12.5" text-anchor="middle" stroke="#000" stroke-width="0.2" textLength="26.5" lengthAdjust="spacingAndGlyphs">0.00</text>
<text x="188" y="593" font-size="12.5" text-anchor="middle" stroke="#000" stroke-width="0.2" textLength="32.5" lengthAdjust="spacingAndGlyphs">-2.00</text>
<text x="298.5" y="587" font-size="12.5" text-anchor="middle" stroke="#000" stroke-width="0.2" textLength="32.5" lengthAdjust="spacingAndGlyphs">-1.00</text>
<text x="358" y="589.5" font-size="12.5" text-anchor="middle" stroke="#000" stroke-width="0.2" textLength="32.5" lengthAdjust="spacingAndGlyphs">-1.50</text>
<text x="453" y="594.5" font-size="12.5" text-anchor="middle" stroke="#000" stroke-width="0.2" textLength="32.5" lengthAdjust="spacingAndGlyphs">-2.00</text>
<text transform="translate(359,621.5) rotate(-4)" font-size="12.5" text-anchor="middle" stroke="#000" stroke-width="0.2" textLength="32.5" lengthAdjust="spacingAndGlyphs">-2.00</text>
<text transform="translate(177,644) rotate(-49)" font-size="12.5" text-anchor="middle" stroke="#000" stroke-width="0.2" textLength="32.5" lengthAdjust="spacingAndGlyphs">-1.50</text>
<text x="239" y="706.5" font-size="12.5" text-anchor="middle" stroke="#000" stroke-width="0.2" textLength="26.5" lengthAdjust="spacingAndGlyphs">0.50</text>
<text x="262" y="709" font-size="12.5" text-anchor="middle" stroke="#000" stroke-width="0.2" textLength="26.5" lengthAdjust="spacingAndGlyphs">1.00</text>
<text x="341" y="707.5" font-size="12.5" text-anchor="middle" stroke="#000" stroke-width="0.2" textLength="26.5" lengthAdjust="spacingAndGlyphs">1.50</text>
</g>
<path d="M106.8 741.2v-3.3M106.8 530.8v3.3M123.6 741.2v-6.6M123.6 530.8v6.6M140.4 741.2v-3.3M140.4 530.8v3.3M157.2 741.2v-6.6M157.2 530.8v6.6M174.0 741.2v-3.3M174.0 530.8v3.3M190.8 741.2v-6.6M190.8 530.8v6.6M207.6 741.2v-3.3M207.6 530.8v3.3M224.4 741.2v-6.6M224.4 530.8v6.6M241.2 741.2v-3.3M241.2 530.8v3.3M258.0 741.2v-6.6M258.0 530.8v6.6M274.8 741.2v-3.3M274.8 530.8v3.3M291.6 741.2v-6.6M291.6 530.8v6.6M308.4 741.2v-3.3M308.4 530.8v3.3M325.2 741.2v-6.6M325.2 530.8v6.6M342.0 741.2v-3.3M342.0 530.8v3.3M358.8 741.2v-6.6M358.8 530.8v6.6M375.6 741.2v-3.3M375.6 530.8v3.3M392.4 741.2v-6.6M392.4 530.8v6.6M409.2 741.2v-3.3M409.2 530.8v3.3M426.0 741.2v-6.6M426.0 530.8v6.6M442.8 741.2v-3.3M442.8 530.8v3.3M459.6 741.2v-6.6M459.6 530.8v6.6M476.4 741.2v-3.3M476.4 530.8v3.3M493.2 741.2v-6.6M493.2 530.8v6.6M90.2 730.50h3.3M509.8 730.50h-3.3M90.2 720.00h3.3M509.8 720.00h-3.3M90.2 709.50h3.3M509.8 709.50h-3.3M90.2 699.00h3.3M509.8 699.00h-3.3M90.2 688.50h6.6M509.8 688.50h-6.6M90.2 678.00h3.3M509.8 678.00h-3.3M90.2 667.50h3.3M509.8 667.50h-3.3M90.2 657.00h3.3M509.8 657.00h-3.3M90.2 646.50h3.3M509.8 646.50h-3.3M90.2 636.00h6.6M509.8 636.00h-6.6M90.2 625.50h3.3M509.8 625.50h-3.3M90.2 615.00h3.3M509.8 615.00h-3.3M90.2 604.50h3.3M509.8 604.50h-3.3M90.2 594.00h3.3M509.8 594.00h-3.3M90.2 583.50h6.6M509.8 583.50h-6.6M90.2 573.00h3.3M509.8 573.00h-3.3M90.2 562.50h3.3M509.8 562.50h-3.3M90.2 552.00h3.3M509.8 552.00h-3.3M90.2 541.50h3.3M509.8 541.50h-3.3" stroke="#000" stroke-width="1.3" fill="none"/>
<rect x="90.2" y="530.8" width="419.6" height="210.4" fill="none" stroke="#000" stroke-width="1.5"/>
<text y="501.5" font-size="19.5" fill="#000" xml:space="preserve"><tspan x="121.7" textLength="109.0" lengthAdjust="spacingAndGlyphs">disturbunce</tspan> <tspan x="243.3" textLength="17.4" lengthAdjust="spacingAndGlyphs">of</tspan> <tspan x="271.7" textLength="79.0" lengthAdjust="spacingAndGlyphs">potential</tspan> <tspan x="363.3" textLength="115.0" lengthAdjust="spacingAndGlyphs">temperature</tspan></text>
<text x="84.0" y="691.6" font-size="12.2" text-anchor="end" fill="#000" stroke="#000" stroke-width="0.3">5</text>
<text x="84.0" y="639.1" font-size="12.2" text-anchor="end" fill="#000" stroke="#000" stroke-width="0.3">10</text>
<text x="84.0" y="586.6" font-size="12.2" text-anchor="end" fill="#000" stroke="#000" stroke-width="0.3">15</text>
<text x="123.6" y="756.2" font-size="12.2" text-anchor="middle" fill="#000" stroke="#000" stroke-width="0.3">4</text>
<text x="157.2" y="756.2" font-size="12.2" text-anchor="middle" fill="#000" stroke="#000" stroke-width="0.3">8</text>
<text x="190.8" y="756.2" font-size="12.2" text-anchor="middle" fill="#000" stroke="#000" stroke-width="0.3">12</text>
<text x="224.4" y="756.2" font-size="12.2" text-anchor="middle" fill="#000" stroke="#000" stroke-width="0.3">16</text>
<text x="258.0" y="756.2" font-size="12.2" text-anchor="middle" fill="#000" stroke="#000" stroke-width="0.3">20</text>
<text x="291.6" y="756.2" font-size="12.2" text-anchor="middle" fill="#000" stroke="#000" stroke-width="0.3">24</text>
<text x="325.2" y="756.2" font-size="12.2" text-anchor="middle" fill="#000" stroke="#000" stroke-width="0.3">28</text>
<text x="358.8" y="756.2" font-size="12.2" text-anchor="middle" fill="#000" stroke="#000" stroke-width="0.3">32</text>
<text x="392.4" y="756.2" font-size="12.2" text-anchor="middle" fill="#000" stroke="#000" stroke-width="0.3">36</text>
<text x="426.0" y="756.2" font-size="12.2" text-anchor="middle" fill="#000" stroke="#000" stroke-width="0.3">40</text>
<text x="459.6" y="756.2" font-size="12.2" text-anchor="middle" fill="#000" stroke="#000" stroke-width="0.3">44</text>
<text x="493.2" y="756.2" font-size="12.2" text-anchor="middle" fill="#000" stroke="#000" stroke-width="0.3">48</text>
<text x="63.2" y="762.3" font-size="11.5" text-anchor="middle" fill="#000" textLength="63.5" lengthAdjust="spacingAndGlyphs" stroke="#000" stroke-width="0.3">(×1000 m)</text>
<text x="486.7" y="769.8" font-size="11.5" text-anchor="middle" fill="#000" textLength="63.3" lengthAdjust="spacingAndGlyphs" stroke="#000" stroke-width="0.3">(×1000 m)</text>
<text x="300.0" y="790.0" font-size="15.5" text-anchor="middle" fill="#000" textLength="102" lengthAdjust="spacingAndGlyphs">X-coordinate</text>
<text transform="translate(62,636) rotate(-90)" font-size="18" text-anchor="middle" textLength="101" lengthAdjust="spacingAndGlyphs">Z-coordinate</text>
<text y="820.8" font-size="12.2" fill="#000" xml:space="preserve" stroke="#000" stroke-width="0.3"><tspan x="201.9" textLength="52.3" lengthAdjust="spacingAndGlyphs">CONTOUR</tspan> <tspan x="262.5" textLength="49.2" lengthAdjust="spacingAndGlyphs">INTERVAL</tspan> <tspan x="320.3" textLength="7.3" lengthAdjust="spacingAndGlyphs">=</tspan> <tspan x="334.1" textLength="63.9" lengthAdjust="spacingAndGlyphs">2.500E-01</tspan></text>
<rect x="209.3" y="831.7" width="181.4" height="11.5" fill="url(#cbar)"/>
<rect x="209.3" y="831.7" width="181.4" height="11.5" fill="url(#cbl)"/>
<rect x="215.6" y="831.7" width="7.3" height="11.5" fill="#2a0078"/>
<rect x="234.7" y="831.7" width="7.3" height="11.5" fill="#001090"/>
<rect x="297.3" y="831.7" width="6.3" height="11.5" fill="#109010"/>
<rect x="318.1" y="831.7" width="7.3" height="11.5" fill="#5a8200"/>
<rect x="359.9" y="831.7" width="7.3" height="11.5" fill="#a03000"/>
<rect x="378.0" y="831.7" width="6.3" height="11.5" fill="#701818"/>
<rect x="215.6" y="831.7" width="7.3" height="11.5" fill="url(#cbl)" opacity="0.25"/>
<rect x="234.7" y="831.7" width="7.3" height="11.5" fill="url(#cbl)" opacity="0.25"/>
<rect x="297.3" y="831.7" width="6.3" height="11.5" fill="url(#cbl)" opacity="0.25"/>
<rect x="318.1" y="831.7" width="7.3" height="11.5" fill="url(#cbl)" opacity="0.25"/>
<rect x="359.9" y="831.7" width="7.3" height="11.5" fill="url(#cbl)" opacity="0.25"/>
<rect x="378.0" y="831.7" width="6.3" height="11.5" fill="url(#cbl)" opacity="0.25"/>
<path d="M214.7 831.7v11.5M223.8 831.7v11.5M233.8 831.7v11.5M242.9 831.7v11.5M260.1 831.7v11.5M269.2 831.7v11.5M287.3 831.7v11.5M296.4 831.7v11.5M304.5 831.7v11.5M317.2 831.7v11.5M326.3 831.7v11.5M341.7 831.7v11.5M350.8 831.7v11.5M359.0 831.7v11.5M368.0 831.7v11.5M377.1 831.7v11.5M385.3 831.7v11.5" stroke="#000" stroke-width="1.6"/>
<rect x="209.3" y="831.7" width="181.4" height="11.5" fill="none" stroke="#000" stroke-width="1.4"/>
<text x="237.4" y="856.7" font-size="12.2" text-anchor="middle" fill="#000" textLength="24" lengthAdjust="spacingAndGlyphs" stroke="#000" stroke-width="0.3">-2.4</text>
<text x="273.3" y="856.7" font-size="12.2" text-anchor="middle" fill="#000" textLength="24" lengthAdjust="spacingAndGlyphs" stroke="#000" stroke-width="0.3">-1.6</text>
<text x="309.3" y="856.7" font-size="12.2" text-anchor="middle" fill="#000" textLength="24" lengthAdjust="spacingAndGlyphs" stroke="#000" stroke-width="0.3">-0.8</text>
<text x="345.0" y="856.7" font-size="12.2" text-anchor="middle" fill="#000" textLength="6.5" lengthAdjust="spacingAndGlyphs" stroke="#000" stroke-width="0.3">0</text>
<text x="381.0" y="856.7" font-size="12.2" text-anchor="middle" fill="#000" textLength="15" lengthAdjust="spacingAndGlyphs" stroke="#000" stroke-width="0.3">0.8</text>
<text x="420.5" y="838.0" font-size="11.8" text-anchor="start" fill="#555" textLength="45" lengthAdjust="spacingAndGlyphs">t=133 s</text>
<text x="16.5" y="866.5" font-size="6.6" text-anchor="start" fill="#111" textLength="101" lengthAdjust="spacingAndGlyphs" style="white-space:pre">/usr/bin/gpview  2008-10-19</text>
<text x="356.0" y="866.5" font-size="6.6" text-anchor="start" fill="#111" textLength="210" lengthAdjust="spacingAndGlyphs">MarsCond_PotTemp.nc@PotTempDist,x=0:50000,z=0:20000,t=133</text>
<g clip-path="url(#clip4)">
<rect x="690" y="531" width="420" height="210" fill="url(#p4v)"/>
<path d="M660 504H785L780 584Q750 609 660 629Z" fill="#00ffb8" opacity="0.85" filter="url(#b16)"/>
<path d="M650 494H750L745 574Q720 594 650 599Z" fill="#00ffe0" opacity="0.7" filter="url(#b16)"/>
<path d="M930 504H1140V649Q1020 649 930 584Z" fill="#00ffb8" opacity="0.9" filter="url(#b16)"/>
<path d="M965 494H1150V619Q1040 619 965 574Z" fill="#00fff0" opacity="0.95" filter="url(#b16)"/>
<ellipse cx="1055" cy="569" rx="55" ry="28" fill="#00ffff" filter="url(#b10)"/>
<ellipse cx="843" cy="624" rx="60" ry="60" fill="#30ff00" opacity="0.5" filter="url(#b16)"/>
<ellipse cx="718" cy="746" rx="62" ry="22" fill="url(#p4y)"/>
<ellipse cx="965" cy="747" rx="80" ry="22" fill="url(#p4y)"/>
<ellipse cx="1115" cy="746" rx="40" ry="16" fill="url(#p4y)"/>
<path d="M690.0 655.6C692.2 654.9 698.8 652.9 703.0 651.5C707.2 650.1 710.8 648.7 715.0 647.0C719.2 645.3 723.8 643.2 728.0 641.5C732.2 639.8 735.5 638.3 740.0 636.5C744.5 634.7 750.0 632.4 755.0 630.5C760.0 628.6 765.0 626.9 770.0 625.0C775.0 623.1 780.0 621.3 785.0 619.0C790.0 616.7 795.5 613.8 800.0 611.0C804.5 608.2 808.6 604.5 812.0 602.0C815.4 599.5 819.0 596.9 820.4 595.9" stroke="#000" stroke-width="1.6" fill="none" stroke-linejoin="round" stroke-linecap="round"/>
<path d="M820.4 595.9L817.5 600.0L819.5 603.0L817.0 606.0L818.8 609.0L816.5 612.0L818.0 615.0L817.0 618.0L819.0 621.0" stroke="#000" stroke-width="1.6" fill="none" stroke-linejoin="round" stroke-linecap="round"/>
<path d="M851.0 620.5L858.0 621.5L868.0 621.0L868.5 617.0L867.0 614.0L869.0 611.0L867.0 608.0L869.0 605.0L867.0 602.0L868.0 599.0L865.0 596.0" stroke="#000" stroke-width="1.6" fill="none" stroke-linejoin="round" stroke-linecap="round"/>
<path d="M865.0 596.0C866.2 597.1 868.7 600.0 872.0 602.5C875.3 605.0 880.3 608.3 885.0 611.0C889.7 613.7 895.0 616.1 900.0 618.5C905.0 620.9 910.0 623.1 915.0 625.5C920.0 627.9 925.0 630.7 930.0 633.0C935.0 635.3 939.8 637.3 945.0 639.5C950.2 641.7 955.2 643.8 961.0 646.0C966.8 648.2 973.5 650.5 980.0 652.5C986.5 654.5 993.3 656.3 1000.0 658.0C1006.7 659.7 1013.3 661.2 1020.0 662.5C1026.7 663.8 1034.2 664.9 1040.0 665.5C1045.8 666.1 1050.2 666.1 1055.0 666.0C1059.8 665.9 1066.7 665.2 1069.0 665.0" stroke="#000" stroke-width="1.6" fill="none" stroke-linejoin="round" stroke-linecap="round"/>
<path d="M1101 657.3L1110 656" stroke="#000" stroke-width="1.6" fill="none" stroke-linejoin="round" stroke-linecap="round"/>
<path d="M690.0 694.0L705.0 688.0L720.0 681.0L735.0 673.5L748.0 667.0L757.0 662.0L760.5 661.5L761.5 664.0L764.5 660.5L760.0 666.0L754.0 676.0L748.0 686.0L746.0 691.0L750.0 694.0L752.0 698.0L760.0 702.0L770.0 705.0L785.0 708.5L800.0 711.0L815.0 713.5L830.0 715.0L845.0 715.5L860.0 716.0L880.0 713.5L900.0 709.0L915.0 705.0L929.7 699.4L938.0 696.0L941.0 694.0L939.5 688.0L936.0 680.0L931.0 671.0L928.0 668.5L926.5 667.0L929.0 669.0L934.0 668.7L940.0 671.0L950.0 675.5L960.0 680.0L972.0 686.0L985.0 692.0L1000.0 696.0L1020.0 699.5L1040.0 702.5L1055.0 703.0L1075.0 701.0L1095.0 697.5L1110.0 695.0" stroke="#000" stroke-width="0.9" fill="none" stroke-linejoin="round"/>
<path d="M690.0 731.0C691.7 730.8 696.7 730.2 700.0 729.5C703.3 728.8 707.0 727.1 710.0 726.5C713.0 725.9 714.7 725.8 718.0 726.0C721.3 726.2 725.5 726.9 730.0 728.0C734.5 729.1 740.5 731.1 745.0 732.5C749.5 733.9 753.7 735.3 757.0 736.5C760.3 737.7 762.5 738.8 765.0 739.5C767.5 740.2 770.8 740.8 772.0 741.0" stroke="#000" stroke-width="1.6" fill="none" stroke-linejoin="round" stroke-linecap="round"/>
<path d="M915.7 741.0C917.2 740.5 921.0 739.3 925.0 738.0C929.0 736.7 935.5 734.5 940.0 733.0C944.5 731.5 948.7 729.9 952.0 729.0C955.3 728.1 956.7 727.7 960.0 727.5C963.3 727.3 967.8 727.6 972.0 728.0C976.2 728.4 980.3 729.3 985.0 730.0C989.7 730.7 994.2 731.2 1000.0 732.0C1005.8 732.8 1014.2 734.0 1020.0 735.0C1025.8 736.0 1030.7 737.2 1035.0 738.0C1039.3 738.8 1044.2 739.7 1046.0 740.0" stroke="#000" stroke-width="1.6" fill="none" stroke-linejoin="round" stroke-linecap="round"/>
<path d="M1084 734.5C1092 733 1100 731.5 1110 731.5" stroke="#000" stroke-width="1.6" fill="none" stroke-linejoin="round" stroke-linecap="round"/>
<path d="M767.5 531.0C767.7 534.2 768.1 543.5 768.5 550.0C768.9 556.5 769.8 565.3 770.0 570.0C770.2 574.7 770.5 575.3 770.0 578.0C769.5 580.7 768.7 583.8 767.0 586.0C765.3 588.2 763.2 589.3 760.0 591.0C756.8 592.7 752.2 594.3 748.0 596.0C743.8 597.7 739.7 599.2 735.0 601.0C730.3 602.8 725.0 604.9 720.0 606.5C715.0 608.1 710.0 609.2 705.0 610.5C700.0 611.8 692.5 613.4 690.0 614.0" stroke="#000" stroke-width="1" fill="none" stroke-dasharray="4.5 3"/>
<path d="M917.5 531.0C917.3 533.3 916.9 540.2 916.5 545.0C916.1 549.8 915.4 555.5 915.0 560.0C914.6 564.5 914.1 568.5 914.0 572.0C913.9 575.5 913.7 578.7 914.5 581.0C915.3 583.3 916.4 584.2 919.0 586.0C921.6 587.8 924.8 589.2 930.0 591.5C935.2 593.8 943.8 597.6 950.0 600.0C956.2 602.4 961.2 604.2 967.0 606.0C972.8 607.8 979.0 609.3 985.0 611.0C991.0 612.7 997.2 614.5 1003.0 616.0C1008.8 617.5 1014.7 618.8 1020.0 620.0C1025.3 621.2 1030.8 622.3 1035.0 623.0C1039.2 623.7 1040.8 623.8 1045.0 624.0C1049.2 624.2 1055.0 624.6 1060.0 624.5C1065.0 624.4 1069.2 624.5 1075.0 623.5C1080.8 622.5 1089.2 619.9 1095.0 618.5C1100.8 617.1 1107.5 615.6 1110.0 615.0" stroke="#000" stroke-width="1" fill="none" stroke-dasharray="4.5 3"/>
<text x="834.5" y="624.5" font-size="12.5" text-anchor="middle" stroke="#000" stroke-width="0.2" textLength="26.5" lengthAdjust="spacingAndGlyphs">0.00</text>
<text transform="translate(1085.5,664.5) rotate(-7)" font-size="12.5" text-anchor="middle" stroke="#000" stroke-width="0.2" textLength="26.5" lengthAdjust="spacingAndGlyphs">0.00</text>
<text transform="translate(1063,740.5) rotate(-4)" font-size="12.5" text-anchor="middle" stroke="#000" stroke-width="0.2" textLength="33" lengthAdjust="spacingAndGlyphs">0.002</text>
</g>
<path d="M706.8 741.2v-3.3M706.8 530.8v3.3M723.6 741.2v-6.6M723.6 530.8v6.6M740.4 741.2v-3.3M740.4 530.8v3.3M757.2 741.2v-6.6M757.2 530.8v6.6M774.0 741.2v-3.3M774.0 530.8v3.3M790.8 741.2v-6.6M790.8 530.8v6.6M807.6 741.2v-3.3M807.6 530.8v3.3M824.4 741.2v-6.6M824.4 530.8v6.6M841.2 741.2v-3.3M841.2 530.8v3.3M858.0 741.2v-6.6M858.0 530.8v6.6M874.8 741.2v-3.3M874.8 530.8v3.3M891.6 741.2v-6.6M891.6 530.8v6.6M908.4 741.2v-3.3M908.4 530.8v3.3M925.2 741.2v-6.6M925.2 530.8v6.6M942.0 741.2v-3.3M942.0 530.8v3.3M958.8 741.2v-6.6M958.8 530.8v6.6M975.6 741.2v-3.3M975.6 530.8v3.3M992.4 741.2v-6.6M992.4 530.8v6.6M1009.2 741.2v-3.3M1009.2 530.8v3.3M1026.0 741.2v-6.6M1026.0 530.8v6.6M1042.8 741.2v-3.3M1042.8 530.8v3.3M1059.6 741.2v-6.6M1059.6 530.8v6.6M1076.4 741.2v-3.3M1076.4 530.8v3.3M1093.2 741.2v-6.6M1093.2 530.8v6.6M690.2 730.50h3.3M1109.8 730.50h-3.3M690.2 720.00h3.3M1109.8 720.00h-3.3M690.2 709.50h3.3M1109.8 709.50h-3.3M690.2 699.00h3.3M1109.8 699.00h-3.3M690.2 688.50h6.6M1109.8 688.50h-6.6M690.2 678.00h3.3M1109.8 678.00h-3.3M690.2 667.50h3.3M1109.8 667.50h-3.3M690.2 657.00h3.3M1109.8 657.00h-3.3M690.2 646.50h3.3M1109.8 646.50h-3.3M690.2 636.00h6.6M1109.8 636.00h-6.6M690.2 625.50h3.3M1109.8 625.50h-3.3M690.2 615.00h3.3M1109.8 615.00h-3.3M690.2 604.50h3.3M1109.8 604.50h-3.3M690.2 594.00h3.3M1109.8 594.00h-3.3M690.2 583.50h6.6M1109.8 583.50h-6.6M690.2 573.00h3.3M1109.8 573.00h-3.3M690.2 562.50h3.3M1109.8 562.50h-3.3M690.2 552.00h3.3M1109.8 552.00h-3.3M690.2 541.50h3.3M1109.8 541.50h-3.3" stroke="#000" stroke-width="1.3" fill="none"/>
<rect x="690.2" y="530.8" width="419.6" height="210.4" fill="none" stroke="#000" stroke-width="1.5"/>
<text y="501.5" font-size="19.5" fill="#000" xml:space="preserve"><tspan x="706.7" textLength="109.0" lengthAdjust="spacingAndGlyphs">disturbunce</tspan> <tspan x="828.3" textLength="17.4" lengthAdjust="spacingAndGlyphs">of</tspan> <tspan x="856.7" textLength="145.0" lengthAdjust="spacingAndGlyphs">nondimensional</tspan> <tspan x="1013.3" textLength="80.0" lengthAdjust="spacingAndGlyphs">pressure</tspan></text>
<text x="684.0" y="691.6" font-size="12.2" text-anchor="end" fill="#000" stroke="#000" stroke-width="0.3">5</text>
<text x="684.0" y="639.1" font-size="12.2" text-anchor="end" fill="#000" stroke="#000" stroke-width="0.3">10</text>
<text x="684.0" y="586.6" font-size="12.2" text-anchor="end" fill="#000" stroke="#000" stroke-width="0.3">15</text>
<text x="723.6" y="756.2" font-size="12.2" text-anchor="middle" fill="#000" stroke="#000" stroke-width="0.3">4</text>
<text x="757.2" y="756.2" font-size="12.2" text-anchor="middle" fill="#000" stroke="#000" stroke-width="0.3">8</text>
<text x="790.8" y="756.2" font-size="12.2" text-anchor="middle" fill="#000" stroke="#000" stroke-width="0.3">12</text>
<text x="824.4" y="756.2" font-size="12.2" text-anchor="middle" fill="#000" stroke="#000" stroke-width="0.3">16</text>
<text x="858.0" y="756.2" font-size="12.2" text-anchor="middle" fill="#000" stroke="#000" stroke-width="0.3">20</text>
<text x="891.6" y="756.2" font-size="12.2" text-anchor="middle" fill="#000" stroke="#000" stroke-width="0.3">24</text>
<text x="925.2" y="756.2" font-size="12.2" text-anchor="middle" fill="#000" stroke="#000" stroke-width="0.3">28</text>
<text x="958.8" y="756.2" font-size="12.2" text-anchor="middle" fill="#000" stroke="#000" stroke-width="0.3">32</text>
<text x="992.4" y="756.2" font-size="12.2" text-anchor="middle" fill="#000" stroke="#000" stroke-width="0.3">36</text>
<text x="1026.0" y="756.2" font-size="12.2" text-anchor="middle" fill="#000" stroke="#000" stroke-width="0.3">40</text>
<text x="1059.6" y="756.2" font-size="12.2" text-anchor="middle" fill="#000" stroke="#000" stroke-width="0.3">44</text>
<text x="1093.2" y="756.2" font-size="12.2" text-anchor="middle" fill="#000" stroke="#000" stroke-width="0.3">48</text>
<text x="663.2" y="762.3" font-size="11.5" text-anchor="middle" fill="#000" textLength="63.5" lengthAdjust="spacingAndGlyphs" stroke="#000" stroke-width="0.3">(×1000 m)</text>
<text x="1086.7" y="769.8" font-size="11.5" text-anchor="middle" fill="#000" textLength="63.3" lengthAdjust="spacingAndGlyphs" stroke="#000" stroke-width="0.3">(×1000 m)</text>
<text x="900.0" y="790.0" font-size="15.5" text-anchor="middle" fill="#000" textLength="102" lengthAdjust="spacingAndGlyphs">X-coordinate</text>
<text transform="translate(662,636) rotate(-90)" font-size="18" text-anchor="middle" textLength="101" lengthAdjust="spacingAndGlyphs">Z-coordinate</text>
<rect x="809.3" y="802.7" width="181.4" height="11.5" fill="url(#cbar)"/>
<rect x="809.3" y="802.7" width="181.4" height="11.5" fill="url(#cbl)"/>
<rect x="815.6" y="802.7" width="7.3" height="11.5" fill="#2a0078"/>
<rect x="834.7" y="802.7" width="7.3" height="11.5" fill="#001090"/>
<rect x="897.3" y="802.7" width="6.3" height="11.5" fill="#109010"/>
<rect x="918.1" y="802.7" width="7.3" height="11.5" fill="#5a8200"/>
<rect x="959.9" y="802.7" width="7.3" height="11.5" fill="#a03000"/>
<rect x="978.0" y="802.7" width="6.3" height="11.5" fill="#701818"/>
<rect x="815.6" y="802.7" width="7.3" height="11.5" fill="url(#cbl)" opacity="0.25"/>
<rect x="834.7" y="802.7" width="7.3" height="11.5" fill="url(#cbl)" opacity="0.25"/>
<rect x="897.3" y="802.7" width="6.3" height="11.5" fill="url(#cbl)" opacity="0.25"/>
<rect x="918.1" y="802.7" width="7.3" height="11.5" fill="url(#cbl)" opacity="0.25"/>
<rect x="959.9" y="802.7" width="7.3" height="11.5" fill="url(#cbl)" opacity="0.25"/>
<rect x="978.0" y="802.7" width="6.3" height="11.5" fill="url(#cbl)" opacity="0.25"/>
<path d="M814.7 802.7v11.5M823.8 802.7v11.5M833.8 802.7v11.5M842.9 802.7v11.5M860.1 802.7v11.5M869.2 802.7v11.5M887.3 802.7v11.5M896.4 802.7v11.5M904.5 802.7v11.5M917.2 802.7v11.5M926.3 802.7v11.5M941.7 802.7v11.5M950.8 802.7v11.5M959.0 802.7v11.5M968.0 802.7v11.5M977.1 802.7v11.5M985.3 802.7v11.5" stroke="#000" stroke-width="1.6"/>
<rect x="809.3" y="802.7" width="181.4" height="11.5" fill="none" stroke="#000" stroke-width="1.4"/>
<text x="828.3" y="827.7" font-size="12.2" text-anchor="middle" fill="#000" textLength="36.4" lengthAdjust="spacingAndGlyphs" stroke="#000" stroke-width="0.3">-0.004</text>
<text x="865.0" y="827.7" font-size="12.2" text-anchor="middle" fill="#000" textLength="36" lengthAdjust="spacingAndGlyphs" stroke="#000" stroke-width="0.3">-0.002</text>
<text x="900.2" y="827.7" font-size="12.2" text-anchor="middle" fill="#000" textLength="6.5" lengthAdjust="spacingAndGlyphs" stroke="#000" stroke-width="0.3">0</text>
<text x="936.0" y="827.7" font-size="12.2" text-anchor="middle" fill="#000" textLength="28.3" lengthAdjust="spacingAndGlyphs" stroke="#000" stroke-width="0.3">0.002</text>
<text x="972.6" y="827.7" font-size="12.2" text-anchor="middle" fill="#000" textLength="28.5" lengthAdjust="spacingAndGlyphs" stroke="#000" stroke-width="0.3">0.004</text>
<text x="1020.5" y="838.0" font-size="11.8" text-anchor="start" fill="#555" textLength="45" lengthAdjust="spacingAndGlyphs">t=133 s</text>
<text x="616.5" y="866.5" font-size="6.6" text-anchor="start" fill="#111" textLength="101" lengthAdjust="spacingAndGlyphs" style="white-space:pre">/usr/bin/gpview  2008-10-19</text>
<text x="992.5" y="866.5" font-size="6.6" text-anchor="start" fill="#111" textLength="177.5" lengthAdjust="spacingAndGlyphs">MarsCond_Exner.nc@Exner,x=0:50000,z=0:20000,t=133</text>
</svg></body></html>
